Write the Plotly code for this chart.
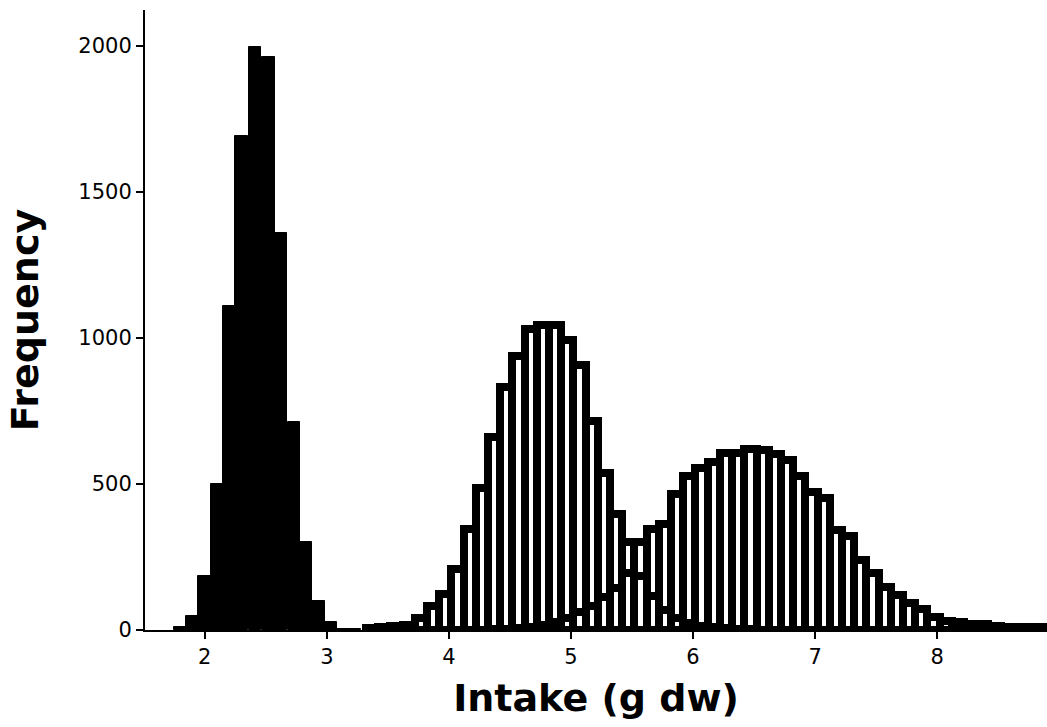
import plotly.graph_objects as go

# ---- data ----
black_x = [1.80, 1.90, 2.00, 2.10, 2.20, 2.30, 2.41, 2.52, 2.62, 2.73, 2.83, 2.93, 3.03, 3.13, 3.23]
black_y = [11, 49, 184, 500, 1109, 1691, 1997, 1963, 1361, 711, 303, 99, 29, 4, 2]

dist_a_x = [3.37, 3.47, 3.57, 3.67, 3.77, 3.87, 3.97, 4.07, 4.17, 4.27, 4.37, 4.47, 4.57, 4.67,
            4.77, 4.87, 4.97, 5.07, 5.17, 5.27, 5.37, 5.47, 5.57, 5.67, 5.77, 5.87, 5.97, 6.07,
            6.17, 6.27, 6.37, 6.47]
dist_a_y = [8, 10, 15, 18, 42, 82, 122, 210, 347, 485, 660, 833, 937, 1030,
            1045, 1045, 992, 907, 715, 537, 396, 300, 185, 115, 70, 42, 25, 15,
            10, 6, 4, 2]

dist_b_x = [4.37, 4.47, 4.57, 4.67, 4.77, 4.87, 4.97, 5.07, 5.17, 5.27, 5.37, 5.47, 5.57, 5.67,
            5.77, 5.87, 5.97, 6.07, 6.17, 6.27, 6.37, 6.47, 6.57, 6.67, 6.77, 6.87, 6.97, 7.07,
            7.17, 7.27, 7.37, 7.47, 7.57, 7.67, 7.77, 7.87, 7.97, 8.07, 8.17, 8.27, 8.37, 8.47,
            8.57, 8.67, 8.77, 8.87]
dist_b_y = [2, 4, 7, 11, 18, 28, 42, 62, 82, 112, 145, 195, 300, 347,
            364, 467, 526, 554, 575, 607, 607, 621, 616, 601, 583, 527, 472, 453,
            341, 321, 238, 195, 148, 120, 92, 72, 45, 31, 29, 21, 19, 15,
            11, 10, 9, 9]

x_ticks = [2, 3, 4, 5, 6, 7, 8]
y_ticks = [0, 500, 1000, 1500, 2000]

x_title = "Intake (g dw)"
y_title = "Frequency"

fig = go.Figure()

fig.add_trace(go.Bar(
    x=black_x, y=black_y, width=0.104,
    marker=dict(color="black", line=dict(color="black", width=1)),
    showlegend=False,
))

for xs, ys in [(dist_b_x, dist_b_y), (dist_a_x, dist_a_y)]:
    fig.add_trace(go.Bar(
        x=xs, y=ys, width=0.1,
        marker=dict(color="rgba(0,0,0,0)", line=dict(color="black", width=8)),
        cliponaxis=False,
        showlegend=False,
    ))

tick_font = dict(family="DejaVu Sans", size=21, color="black")
title_font = dict(family="DejaVu Sans", size=38, color="black", weight="bold")

fig.update_layout(
    width=1047, height=727,
    margin=dict(l=145, r=0, t=10, b=97),
    barmode="overlay", bargap=0,
    plot_bgcolor="white", paper_bgcolor="white",
    xaxis=dict(
        range=[1.51, 8.90], tickvals=x_ticks, ticktext=[str(v) for v in x_ticks],
        showline=True, linecolor="black", linewidth=2,
        ticks="outside", ticklen=7, tickwidth=2, tickcolor="black",
        showgrid=False, zeroline=False, tickfont=tick_font,
        title=dict(text=x_title, font=title_font, standoff=16),
    ),
    yaxis=dict(
        range=[0, 2123], tickvals=y_ticks, ticktext=[str(v) for v in y_ticks],
        showline=True, linecolor="black", linewidth=2,
        ticks="outside", ticklen=7, tickwidth=2, tickcolor="black",
        showgrid=False, zeroline=False, tickfont=tick_font,
        title=dict(text=y_title, font=title_font, standoff=28),
    ),
)

fig.write_html("out.html")
